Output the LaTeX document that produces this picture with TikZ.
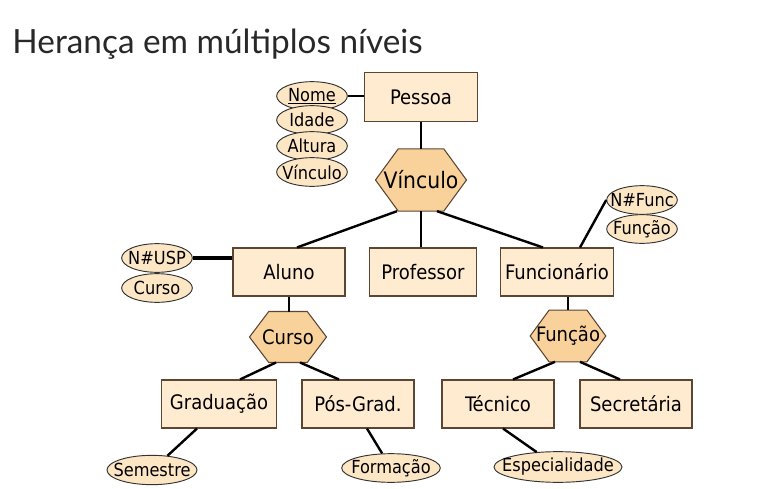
\documentclass[tikz,border=0pt]{standalone}
\usepackage{fontspec}
\setmainfont{DejaVu Sans Condensed}
\newfontfamily\titlefont{Lato}
\usetikzlibrary{shapes.geometric,calc,backgrounds}

\definecolor{boxfill}{RGB}{254,235,208}
\definecolor{hexfill}{RGB}{249,210,155}
\definecolor{attfill}{RGB}{253,230,196}
\definecolor{edgecol}{RGB}{90,70,50}
\definecolor{titlecol}{RGB}{40,40,40}

% hexagon drawn behind a named node
\newcommand{\hexback}[1]{%
  \begin{scope}[on background layer]
    \draw [draw=edgecol,fill=hexfill,line width=0.8pt] (#1.west) -- ($(#1.north west)!0.25!(#1.north east)$) -- ($(#1.north west)!0.75!(#1.north east)$) -- (#1.east) -- ($(#1.south west)!0.75!(#1.south east)$) -- ($(#1.south west)!0.25!(#1.south east)$) -- cycle;
  \end{scope}}

\tikzset{every picture/.style={line width=0.75pt}}
\tikzset{
  entity/.style={draw=edgecol,fill=boxfill,line width=0.8pt,minimum width=84pt,minimum height=36pt,font=\fontsize{15}{17}\selectfont},
  attrib/.style={ellipse,draw=black!80,fill=attfill,line width=0.7pt,inner sep=0pt,minimum width=53pt,minimum height=21.5pt,font=\fontsize{13.5}{15}\selectfont,
    execute at begin node={\hbox to 0pt\bgroup\hss},execute at end node={\hss\egroup}},
  spec/.style={inner sep=0pt,font=\fontsize{15}{17}\selectfont},
  link/.style={line width=1.8pt}
}

\begin{document}
\begin{tikzpicture}[x=0.75pt,y=0.75pt,yscale=-1,xscale=1]
\path[use as bounding box] (0,0) rectangle (772,489);

% Title
\node [anchor=base west,inner sep=0pt,text=titlecol,font=\titlefont\fontsize{25}{30}\selectfont] (title) at (12,53) {Herança em múltiplos níveis};

% Entities
\node [entity,minimum width=85pt,minimum height=37pt] (pessoa) at (421,97) {Pessoa};
\node [entity] (aluno) at (289,272) {Aluno};
\node [entity,minimum width=80pt] (prof) at (423,272) {Professor};
\node [entity,minimum width=83pt] (func) at (557,272) {Funcionário};
\node [entity,minimum width=86pt] (grad) at (219,404) {Graduação};
\node [entity] (posgrad) at (358,404) {Pós-Grad.};
\node [entity] (tecnico) at (498,404) {Técnico};
\node [entity] (secret) at (636,404) {Secretária};

% Specializations
\node [spec,minimum width=67.5pt,minimum height=46pt,font=\fontsize{17}{19}\selectfont] (vinc) at (421,180) {Vínculo};
\node [spec,minimum width=57pt,minimum height=37.5pt] (curso) at (288,337) {Curso};
\node [spec,minimum width=56pt,minimum height=38pt] (funcao) at (568,336) {Função};
\hexback{vinc}
\hexback{curso}
\hexback{funcao}

% Attributes
\node [attrib] (nome) at (312,96) {\underline{Nome}};
\node [attrib] (idade) at (312,120) {Idade};
\node [attrib] (altura) at (312,146) {Altura};
\node [attrib] (vinculo) at (312,172) {Vínculo};
\node [attrib] (nusp) at (157,258) {N\#USP};
\node [attrib] (cursoatt) at (157,288) {Curso};
\node [attrib] (nfunc) at (642,200) {N\#Func};
\node [attrib] (funcaoatt) at (642,229) {Função};
\node [attrib,minimum width=67.5pt,minimum height=22pt] (semestre) at (152,470) {Semestre};
\node [attrib,minimum width=74pt] (formacao) at (391,468) {Formação};
\node [attrib,minimum width=96pt,minimum height=23pt] (especial) at (558,467) {Especialidade};

% Connectors
\draw [link] (nome.east) -- (nome.east -| pessoa.west);
\draw [link] (pessoa) -- (vinc);
\draw [link] ($(vinc.south)+(-24,0)$) -- ($(aluno.north)+(8,0)$);
\draw [link] (vinc.south) -- (vinc.south |- prof.north);
\draw [link] ($(vinc.south)+(16,0)$) -- ($(func.north)+(-14,0)$);
\draw [line width=3pt] (nusp.east) -- (nusp.east -| aluno.west);
\draw [link] ($(func.north)+(23,0)$) -- (nfunc.west);
\draw [link] (aluno.south) -- (aluno.south |- curso.north);
\draw [link] ($(curso.south)+(-12,0)$) -- ($(grad.north)+(21,0)$);
\draw [link] ($(curso.south)+(12,0)$) -- ($(posgrad.north)+(-19,0)$);
\draw [link] (funcao.north |- func.south) -- (funcao.north);
\draw [link] ($(funcao.south)+(-13,0)$) -- ($(tecnico.north)+(15,0)$);
\draw [link] ($(funcao.south)+(12,0)$) -- ($(secret.north)+(-16,0)$);
\draw [link] ($(grad.south)+(-22,0)$) -- (semestre);
\draw [link] ($(posgrad.south)+(9,0)$) -- (formacao);
\draw [link] ($(tecnico.south)+(5,0)$) -- (especial);

\end{tikzpicture}
\end{document}
